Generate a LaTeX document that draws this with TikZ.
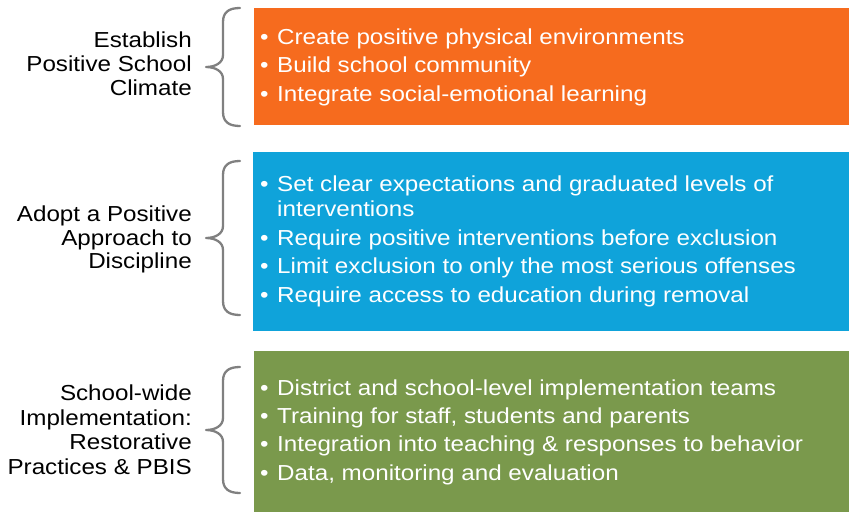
\documentclass[tikz,border=0pt]{standalone}
\usepackage{fontspec}
\setmainfont{Liberation Sans}[FakeStretch=1.115]
\definecolor{boxorange}{HTML}{F66B1E}
\definecolor{boxblue}{HTML}{0FA3DA}
\definecolor{boxgreen}{HTML}{7A994C}
\definecolor{bracegray}{HTML}{808080}
\tikzset{
  lbl/.style={anchor=base east, inner sep=0pt, font=\fontsize{21.7}{24}\selectfont, text=black},
  itm/.style={anchor=base west, inner sep=0pt, font=\fontsize{21.7}{24}\selectfont, text=white},
  bracepath/.style={draw=bracegray, line width=2.3pt, line cap=round, line join=round},
}
\newcommand\bul{\makebox[17pt][l]{\textbullet}}
\newcommand\bracedraw[3]{% top, tip, bottom
  \draw[bracepath] (240,#1) .. controls (229,#1) and (223,{#1+4}) .. (223,{#1+14})
    -- (223,{#2-12}) .. controls (223,{#2-4}) and (215,#2) .. (206,#2)
    .. controls (215,#2) and (223,{#2+4}) .. (223,{#2+12})
    -- (223,{#3-14}) .. controls (223,{#3-4}) and (229,#3) .. (240,#3);}
\begin{document}
\begin{tikzpicture}[x=1pt,y=-1pt]
\useasboundingbox (0,0) rectangle (849,512);
% boxes
\fill[boxorange] (254,8) rectangle (849,125);
\fill[boxblue] (253,152) rectangle (849,331);
\fill[boxgreen] (254,351) rectangle (849,512);
% braces
\bracedraw{8}{67}{126}
\bracedraw{161}{238}{315}
\bracedraw{367}{430}{493}
% left labels
\node[lbl] (l1a) at (192,47.5) {Establish};
\node[lbl] (l1b) at (192,71.5) {Positive School};
\node[lbl] (l1c) at (192,95.5) {Climate};
\node[lbl] (l2a) at (192,221) {Adopt a Positive};
\node[lbl] (l2b) at (192,245) {Approach to};
\node[lbl] (l2c) at (192,268.5) {Discipline};
\node[lbl] (l3a) at (192,400) {School-wide};
\node[lbl] (l3b) at (192,425) {Implementation:};
\node[lbl] (l3c) at (192,449.5) {Restorative};
\node[lbl] (l3d) at (192,474) {Practices \& PBIS};
% orange items
\node[itm] (o1) at (260,44) {\bul Create positive physical environments};
\node[itm] (o2) at (260,72.5) {\bul Build school community};
\node[itm] (o3) at (260,101) {\bul Integrate social-emotional learning};
% blue items
\node[itm] (b1) at (260,191) {\bul Set clear expectations and graduated levels of};
\node[itm] (b1b) at (260,216.5) {\hspace{17pt}interventions};
\node[itm] (b2) at (260,245.5) {\bul Require positive interventions before exclusion};
\node[itm] (b3) at (260,273.8) {\bul Limit exclusion to only the most serious offenses};
\node[itm] (b4) at (260,302) {\bul Require access to education during removal};
% green items
\node[itm] (g1) at (260,395) {\bul District and school-level implementation teams};
\node[itm] (g2) at (260,423.3) {\bul Training for staff, students and parents};
\node[itm] (g3) at (260,451.7) {\bul Integration into teaching \& responses to behavior};
\node[itm] (g4) at (260,480) {\bul Data, monitoring and evaluation};
\end{tikzpicture}
\end{document}
